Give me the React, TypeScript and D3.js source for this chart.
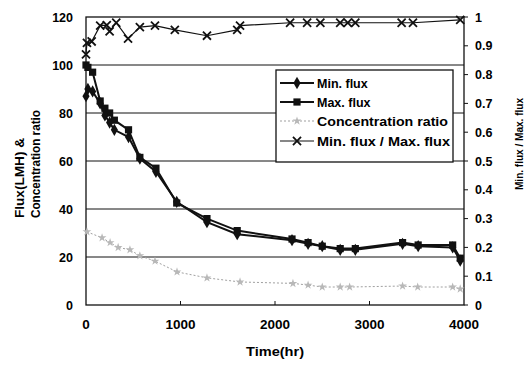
// @ts-nocheck
import React, { useEffect, useRef } from 'react';
import * as d3 from 'd3';

// flux series (min / max), same sampling times
const fluxTimes = [0, 20, 70, 150, 200, 250, 300, 450, 570, 740, 960, 1280, 1600, 2180, 2350, 2500, 2690, 2850, 3350, 3515, 3880, 3960];
const minFlux = [87, 90, 89, 84, 79, 76, 73, 70, 61, 55.5, 43, 34.5, 29.5, 27, 25.5, 24.5, 23, 23, 25.5, 24.5, 24, 18.5];
const maxFlux = [100, 99, 97, 85, 82, 80, 77, 73, 61.5, 57, 42.5, 36, 31, 27.5, 26, 24.5, 23.5, 23.5, 26, 25, 25, 19.5];

const concTimes = [10, 170, 255, 340, 465, 570, 730, 963, 1280, 1630, 2190, 2350, 2500, 2690, 2790, 3350, 3510, 3880, 3960];
const concRatio = [30.5, 28, 26, 24, 23, 20.5, 18.3, 13.8, 11.3, 9.6, 9, 8.3, 7.5, 7.5, 7.5, 7.9, 7.5, 7.5, 6.7];

const ratioTimes = [0, 10, 60, 150, 220, 250, 320, 445, 570, 730, 940, 1280, 1600, 1630, 2160, 2340, 2480, 2690, 2770, 2850, 3340, 3460, 3960];
const fluxRatio = [0.87, 0.91, 0.915, 0.97, 0.972, 0.95, 0.98, 0.925, 0.965, 0.97, 0.955, 0.935, 0.955, 0.97, 0.98, 0.98, 0.98, 0.98, 0.98, 0.98, 0.98, 0.98, 0.99];

const xTicks = [0, 1000, 2000, 3000, 4000];
const leftTicks = [0, 20, 40, 60, 80, 100, 120];
const rightTicks = [0, 0.1, 0.2, 0.3, 0.4, 0.5, 0.6, 0.7, 0.8, 0.9, 1];
const legendLabels = ['Min. flux', 'Max. flux', 'Concentration ratio', 'Min. flux / Max. flux'];

const App = () => {
  const svgRef = useRef(null);

  useEffect(() => {
    document.body.style.margin = '0';
    const width = 529;
    const height = 369;
    const left = 86, right = 464, top = 17, bottom = 305;
    const font = 'Liberation Sans, Arial, sans-serif';

    const x = d3.scaleLinear().domain([0, 4000]).range([left, right]);
    const yL = d3.scaleLinear().domain([0, 120]).range([bottom, top]);
    const yR = d3.scaleLinear().domain([0, 1]).range([bottom, top]);

    const svg = d3.select(svgRef.current)
      .attr('width', width)
      .attr('height', height)
      .style('display', 'block')
      .style('background', '#fff');
    svg.selectAll('*').remove();

    // gridlines
    svg.append('g').selectAll('line')
      .data(leftTicks.filter(d => d > 0 && d < 120))
      .join('line')
      .attr('x1', left).attr('x2', right)
      .attr('y1', d => yL(d)).attr('y2', d => yL(d))
      .attr('stroke', '#111').attr('stroke-width', 1);

    // frame
    svg.append('rect')
      .attr('x', left).attr('y', top)
      .attr('width', right - left).attr('height', bottom - top)
      .attr('fill', 'none').attr('stroke', '#111').attr('stroke-width', 1.3);

    // bottom ticks (inside)
    svg.append('g').selectAll('line')
      .data(xTicks.slice(1, -1))
      .join('line')
      .attr('x1', d => x(d)).attr('x2', d => x(d))
      .attr('y1', bottom).attr('y2', bottom - 4)
      .attr('stroke', '#111');

    // right ticks (outside)
    svg.append('g').selectAll('line')
      .data(rightTicks)
      .join('line')
      .attr('x1', right).attr('x2', right + 4)
      .attr('y1', d => yR(d)).attr('y2', d => yR(d))
      .attr('stroke', '#111');

    // tick labels
    svg.append('g').selectAll('text')
      .data(xTicks)
      .join('text')
      .attr('x', d => x(d)).attr('y', 329)
      .attr('text-anchor', 'middle')
      .attr('font-family', font).attr('font-weight', 'bold').attr('font-size', 13.5)
      .text(d => d);

    svg.append('g').selectAll('text')
      .data(leftTicks)
      .join('text')
      .attr('x', 73).attr('y', d => yL(d) + 4.5)
      .attr('text-anchor', 'end')
      .attr('font-family', font).attr('font-weight', 'bold').attr('font-size', 12.5)
      .text(d => d);

    svg.append('g').selectAll('text')
      .data(rightTicks)
      .join('text')
      .attr('x', 475).attr('y', d => yR(d) + 4.5)
      .attr('text-anchor', 'start')
      .attr('font-family', font).attr('font-weight', 'bold').attr('font-size', 12.5)
      .text(d => d3.format('~g')(d));

    // axis titles
    svg.append('text')
      .attr('x', 275).attr('y', 356)
      .attr('text-anchor', 'middle')
      .attr('font-family', font).attr('font-weight', 'bold').attr('font-size', 13)
      .attr('textLength', 58).attr('lengthAdjust', 'spacingAndGlyphs')
      .text('Time(hr)');

    const leftTitle = [['Flux(LMH) &', 80, 24], ['Concentration ratio', 108, 40]];
    leftTitle.forEach(([t, len, cx]) => {
      svg.append('text')
        .attr('transform', `translate(${cx},218) rotate(-90)`)
        .attr('text-anchor', 'start')
        .attr('font-family', font).attr('font-weight', 'bold').attr('font-size', 12)
        .attr('textLength', len).attr('lengthAdjust', 'spacingAndGlyphs')
        .text(t);
    });

    svg.append('text')
      .attr('transform', 'translate(523,144) rotate(-90)')
      .attr('text-anchor', 'middle')
      .attr('font-family', font).attr('font-weight', 'bold').attr('font-size', 11.5)
      .attr('textLength', 92).attr('lengthAdjust', 'spacingAndGlyphs')
      .text('Min. flux / Max. flux');

    const plot = svg.append('g');

    // concentration ratio: dotted grey
    const concData = concTimes.map((t, i) => [t, concRatio[i]]);
    plot.append('path')
      .datum(concData)
      .attr('fill', 'none').attr('stroke', '#a0a0a0').attr('stroke-width', 1)
      .attr('stroke-dasharray', '2,2')
      .attr('d', d3.line().x(d => x(d[0])).y(d => yL(d[1])));
    const star = d3.symbol().type(d3.symbolStar).size(24);
    plot.append('g').selectAll('path')
      .data(concData)
      .join('path')
      .attr('transform', d => `translate(${x(d[0])},${yL(d[1])})`)
      .attr('d', star)
      .attr('fill', '#b8b8b8');

    // ratio (right axis)
    const ratioData = ratioTimes.map((t, i) => [t, fluxRatio[i]]);
    plot.append('path')
      .datum(ratioData)
      .attr('fill', 'none').attr('stroke', '#111').attr('stroke-width', 1.2)
      .attr('d', d3.line().x(d => x(d[0])).y(d => yR(d[1])));
    const cross = d3.symbol().type(d3.symbolX).size(44);
    plot.append('g').selectAll('path')
      .data(ratioData)
      .join('path')
      .attr('transform', d => `translate(${x(d[0])},${yR(d[1])})`)
      .attr('d', cross)
      .attr('fill', 'none').attr('stroke', '#111').attr('stroke-width', 1.8);

    // max / min flux
    const maxData = fluxTimes.map((t, i) => [t, maxFlux[i]]);
    const minData = fluxTimes.map((t, i) => [t, minFlux[i]]);
    const fluxLine = d3.line().x(d => x(d[0])).y(d => yL(d[1]));
    [maxData, minData].forEach(s => {
      plot.append('path')
        .datum(s)
        .attr('fill', 'none').attr('stroke', '#111').attr('stroke-width', 2)
        .attr('d', fluxLine);
    });
    const square = d3.symbol().type(d3.symbolSquare).size(52);
    const diamond = d3.symbol().type(d3.symbolDiamond).size(44);
    plot.append('g').selectAll('path')
      .data(maxData)
      .join('path')
      .attr('transform', d => `translate(${x(d[0])},${yL(d[1])})`)
      .attr('d', square).attr('fill', '#111');
    plot.append('g').selectAll('path')
      .data(minData)
      .join('path')
      .attr('transform', d => `translate(${x(d[0])},${yL(d[1])})`)
      .attr('d', diamond).attr('fill', '#111');

    // legend
    const lg = svg.append('g');
    lg.append('rect')
      .attr('x', 276).attr('y', 70).attr('width', 177).attr('height', 92)
      .attr('fill', '#fff').attr('stroke', '#111').attr('stroke-width', 1.3);
    const rowY = [83, 102, 121, 141];
    const textLens = [null, null, 131, 133];
    const markers = [diamond, square, star, cross];
    legendLabels.forEach((label, i) => {
      const cy = rowY[i];
      const conc = i === 2;
      lg.append('line')
        .attr('x1', 280).attr('x2', 314).attr('y1', cy).attr('y2', cy)
        .attr('stroke', conc ? '#a0a0a0' : '#111')
        .attr('stroke-width', i < 2 ? 2 : 1.2)
        .attr('stroke-dasharray', conc ? '2,2' : null);
      const m = lg.append('path')
        .attr('transform', `translate(297,${cy})`)
        .attr('d', markers[i]);
      if (i === 3) m.attr('fill', 'none').attr('stroke', '#111').attr('stroke-width', 1.8);
      else m.attr('fill', conc ? '#b8b8b8' : '#111');
      const t = lg.append('text')
        .attr('x', 317).attr('y', cy + 4.5)
        .attr('font-family', font).attr('font-weight', 'bold').attr('font-size', 12.5)
        .text(label);
      if (textLens[i]) t.attr('textLength', textLens[i]).attr('lengthAdjust', 'spacingAndGlyphs');
    });
  }, []);

  return <svg ref={svgRef}></svg>;
};

export default App;
